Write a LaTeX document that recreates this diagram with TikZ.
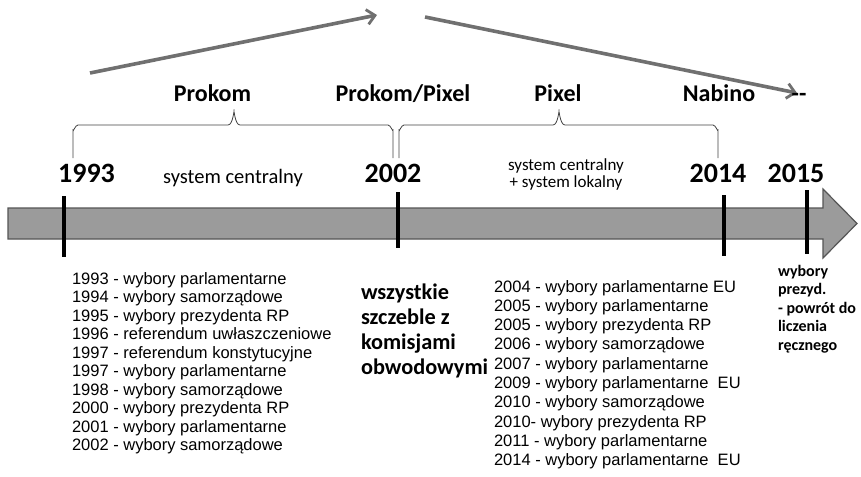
\documentclass[tikz,border=0pt]{standalone}
\usepackage{fontspec}
\setmainfont{Carlito}
\newfontfamily\arialf{Liberation Sans}
\usetikzlibrary{arrows.meta}
\definecolor{arrgray}{RGB}{112,112,112}
\definecolor{bodyfill}{RGB}{155,155,155}
\definecolor{bodyline}{RGB}{85,85,85}
\begin{document}
\begin{tikzpicture}[x=1pt,y=-1pt,
  every node/.style={inner sep=0pt,outer sep=0pt},
  company/.style={font=\fontsize{24}{28}\selectfont\bfseries,anchor=base},
  yearlbl/.style={font=\fontsize{28}{32}\selectfont\bfseries,anchor=base},
  sysl/.style={font=\fontsize{20.5}{24}\selectfont,anchor=base},
  sysr/.style={font=\fontsize{17}{17}\selectfont,anchor=base},
  listtxt/.style={font=\arialf\fontsize{16.5}{18}\selectfont,anchor=base west},
  boldmid/.style={font=\fontsize{22.3}{25}\selectfont\bfseries,anchor=base west},
  boldright/.style={font=\fontsize{16}{19}\selectfont\bfseries,anchor=base west},
  trend/.style={draw=arrgray,line width=3.6pt,-{Straight Barb[length=8pt,width=15pt,line width=2.8pt]}},
  bracebar/.style={draw=black!75,line width=0.8pt},
  tick/.style={draw=black,line width=4pt}]
\useasboundingbox (0,0) rectangle (861,476);

% upper trend arrows
\coordinate (a1s) at (90,73);
\coordinate (a1e) at (377,15);
\coordinate (a2s) at (425,17);
\coordinate (a2e) at (797,93);
\draw[trend] (a1s) -- (a1e);
\draw[trend] (a2s) -- (a2e);

% company labels
\node[company] (prokom) at (212.5,102) {Prokom};
\node[company] (prokompixel) at (403,102) {Prokom/Pixel};
\node[company] (pixel) at (558,102) {Pixel};
\node[company] (nabino) at (719,102) {Nabino};
\node[company] (dash) at (799,102) {-{}-};

% braces
\draw[bracebar] (73,158) -- (73,130) to[out=-90,in=180] (78,125) -- (228,125)
  to[out=0,in=90] (234,113) to[out=90,in=180] (240,125) -- (388,125)
  to[out=0,in=-90] (393,130) -- (393,158);
\draw[bracebar] (399,158) -- (399,130) to[out=-90,in=180] (404,125) -- (553,125)
  to[out=0,in=90] (559,113) to[out=90,in=180] (565,125) -- (713,125)
  to[out=0,in=-90] (718,130) -- (718,158);

% years
\node[yearlbl] (y1993) at (86.5,182) {1993};
\node[yearlbl] (y2002) at (393,182) {2002};
\node[yearlbl] (y2014) at (718,182) {2014};
\node[yearlbl] (y2015) at (796,182) {2015};

% system labels
\node[sysl] (sysc) at (233,183) {system centralny};
\node[sysr] (sysc2) at (566,170) {system centralny};
\node[sysr] (sysl2) at (566,187) {+ system lokalny};

% big timeline arrow
\draw[fill=bodyfill,draw=bodyline,line width=1.2pt,line join=miter]
  (8,208) -- (823,208) -- (823,189) -- (857,223.5) -- (823,258) -- (823,239) -- (8,239) -- cycle;

% ticks
\coordinate (t1a) at (64,196);  \coordinate (t1b) at (64,257);
\coordinate (t2a) at (398,192); \coordinate (t2b) at (398,248);
\coordinate (t3a) at (724,195); \coordinate (t3b) at (724,256);
\coordinate (t4a) at (807,190); \coordinate (t4b) at (807,254);
\draw[tick] (t1a) -- (t1b);
\draw[tick] (t2a) -- (t2b);
\draw[tick] (t3a) -- (t3b);
\draw[tick] (t4a) -- (t4b);

% left list
\foreach \t [count=\i] in {1993 - wybory parlamentarne,
  1994 - wybory samorządowe,
  1995 - wybory prezydenta RP,
  1996 - referendum uwłaszczeniowe,
  1997 - referendum konstytucyjne,
  1997 - wybory parlamentarne,
  1998 - wybory samorządowe,
  2000 - wybory prezydenta RP,
  2001 - wybory parlamentarne,
  2002 - wybory samorządowe}
  \node[listtxt] (L\i) at (72,{284+18.5*(\i-1)}) {\t};

% middle bold
\foreach \t [count=\i] in {wszystkie, szczeble z, komisjami, obwodowymi}
  \node[boldmid] (M\i) at (361,{299+25*(\i-1)}) {\t};

% right list
\foreach \t [count=\i] in {2004 - wybory parlamentarne EU,
  2005 - wybory parlamentarne,
  2005 - wybory prezydenta RP,
  2006 - wybory samorządowe,
  2007 - wybory parlamentarne,
  2009 - wybory parlamentarne\ \ EU,
  2010 - wybory samorządowe,
  2010- wybory prezydenta RP,
  2011 - wybory parlamentarne,
  2014 - wybory parlamentarne\ \ EU}
  \node[listtxt] (R\i) at (494,{292+19.3*(\i-1)}) {\t};

% right bold
\foreach \t [count=\i] in {wybory, prezyd., - powrót do, liczenia, ręcznego}
  \node[boldright] (B\i) at (778,{276+18.5*(\i-1)}) {\t};
\end{tikzpicture}
\end{document}
